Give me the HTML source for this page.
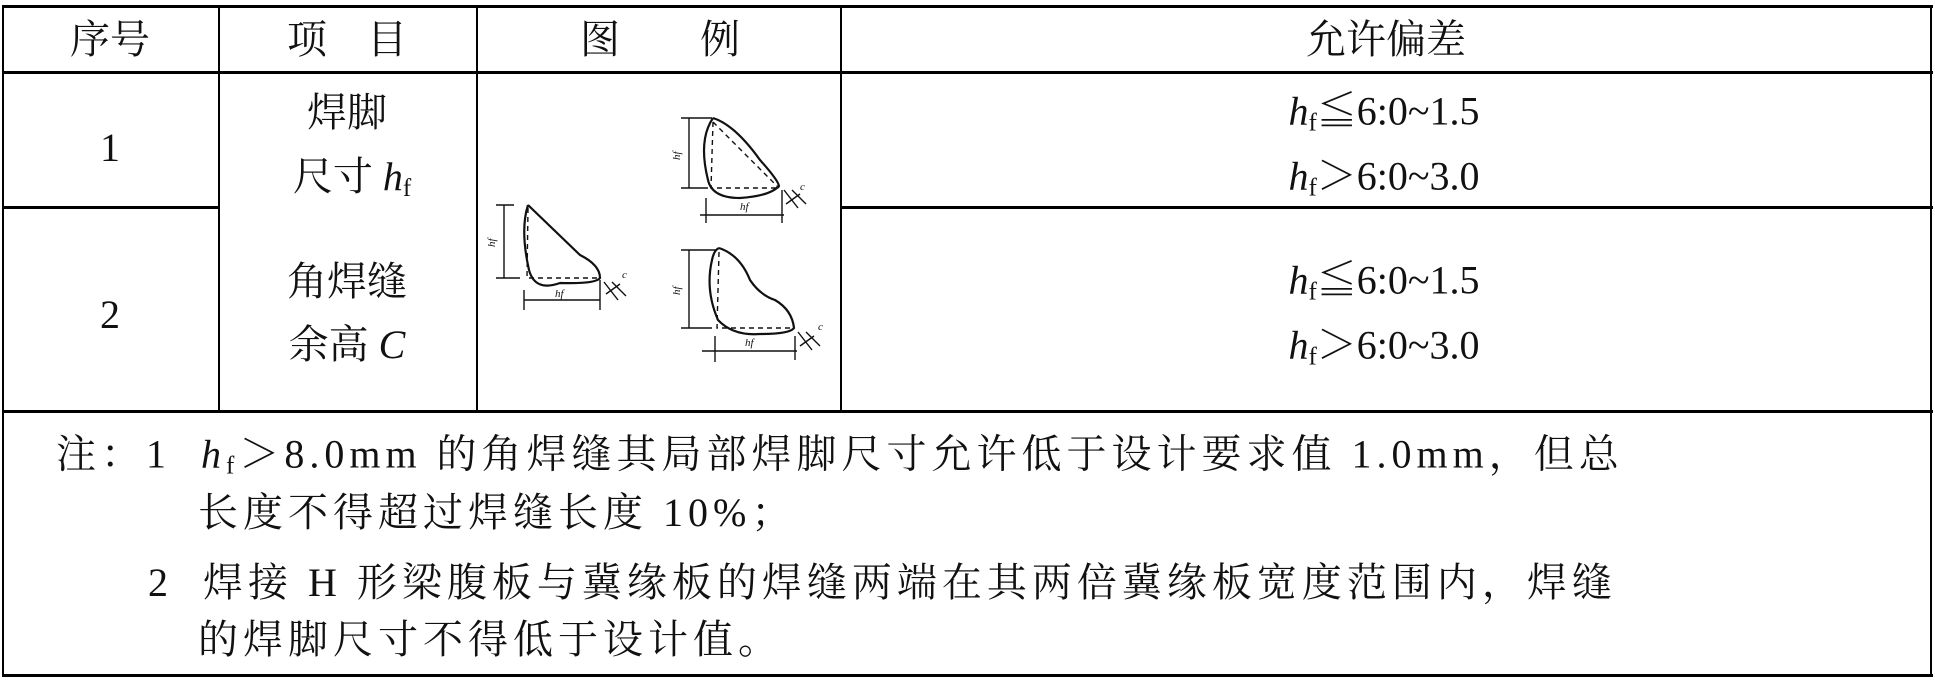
<!DOCTYPE html>
<html><head><meta charset="utf-8"><style>
html,body{margin:0;padding:0;background:#fff;}
body{width:1935px;height:682px;position:relative;overflow:hidden;font-family:"Liberation Serif","Noto Serif CJK SC",serif;color:#111;}
.l{position:absolute;background:#000;}
.t{position:absolute;font-size:40px;line-height:1;white-space:nowrap;transform:translate(-50%,-50%);}
.n{position:absolute;font-size:40px;line-height:1;white-space:nowrap;transform:translateY(-50%);letter-spacing:5px;}
i{font-style:italic;}
sub{font-size:25px;vertical-align:-6px;line-height:0;}
.c{font-family:"Noto Serif CJK SC",serif;}
</style></head><body>
<div class="l" style="left:2px;top:5px;width:1931px;height:3px"></div>
<div class="l" style="left:2px;top:71px;width:1931px;height:3px"></div>
<div class="l" style="left:2px;top:206px;width:217px;height:3px"></div>
<div class="l" style="left:841px;top:206px;width:1092px;height:3px"></div>
<div class="l" style="left:2px;top:410px;width:1931px;height:3px"></div>
<div class="l" style="left:2px;top:674px;width:1931px;height:3px"></div>
<div class="l" style="left:2px;top:5px;width:2px;height:672px"></div>
<div class="l" style="left:1930px;top:5px;width:2px;height:672px"></div>
<div class="l" style="left:218px;top:5px;width:2px;height:407px"></div>
<div class="l" style="left:476px;top:5px;width:2px;height:407px"></div>
<div class="l" style="left:840px;top:5px;width:2px;height:407px"></div>

<div class="t" style="left:110px;top:40px">序号</div>
<div class="t" style="left:347px;top:40px">项&nbsp;&nbsp;&nbsp;&nbsp;目</div>
<div class="t" style="left:660px;top:40px">图&nbsp;&nbsp;&nbsp;&nbsp;&nbsp;&nbsp;&nbsp;&nbsp;例</div>
<div class="t" style="left:1386px;top:40px">允许偏差</div>

<div class="t" style="left:110px;top:148px">1</div>
<div class="t" style="left:110px;top:315px">2</div>
<div class="t" style="left:347px;top:113px">焊脚</div>
<div class="t" style="left:352px;top:177px">尺寸 <i>h</i><sub>f</sub></div>
<div class="t" style="left:347px;top:282px">角焊缝</div>
<div class="t" style="left:347px;top:345px">余高 <i>C</i></div>

<div class="t" style="left:1384px;top:110px"><i>h</i><sub>f</sub><span class="c">≦</span>6:0~1.5</div>
<div class="t" style="left:1384px;top:175px"><i>h</i><sub>f</sub><span class="c">＞</span>6:0~3.0</div>
<div class="t" style="left:1384px;top:279px"><i>h</i><sub>f</sub><span class="c">≦</span>6:0~1.5</div>
<div class="t" style="left:1384px;top:344px"><i>h</i><sub>f</sub><span class="c">＞</span>6:0~3.0</div>

<svg style="position:absolute;left:0;top:0" width="1935" height="682">
<g fill="none" stroke="#111" stroke-width="2.2">
 <path d="M528,205 L580,255 Q600,265 600,278 Q596,284 560,283 Q535,292 529,270 Q520,230 528,205"/>
 <path d="M713,118 Q735,125 760,160 Q778,180 779,186 Q770,196 740,198 Q712,198 708,180 Q698,140 713,118"/>
 <path d="M719,248 Q740,255 750,280 Q760,295 775,300 Q792,310 794,328 Q790,334 760,334 Q733,336 718,320 Q705,290 712,260 Q714,250 719,248"/>
</g>
<g fill="none" stroke="#111" stroke-width="1.4" stroke-dasharray="5,4">
 <path d="M528,208 L527,278 L598,278"/>
 <path d="M713,122 L711,188 L779,188 M713,122 L779,188"/>
 <path d="M719,252 L717,328 L794,328"/>
</g>
<g stroke="#111" stroke-width="1.4">
 <path d="M504,205 L504,278 M496,205 L514,205 M496,278 L520,278"/>
 <path d="M524,290 L524,310 M600,280 L600,310 M524,300 L600,300"/>
 <path d="M689,118 L689,188 M681,118 L712,118 M681,188 L708,188"/>
 <path d="M706,198 L706,223 M782,190 L782,223 M700,215 L784,215"/>
 <path d="M689,250 L689,328 M681,250 L716,250 M681,328 L712,328"/>
 <path d="M715,336 L715,362 M795,336 L795,360 M702,351 L797,351"/>
 <path d="M604,282 L618,300 M612,282 L626,296 M606,294 L620,284"/>
 <path d="M784,190 L798,208 M792,190 L806,204 M786,204 L800,194"/>
 <path d="M798,332 L812,350 M806,332 L820,346 M800,346 L814,336"/>
</g>
<g font-family="Liberation Serif" font-style="italic" font-size="11" fill="#111">
 <text x="495" y="247" transform="rotate(-90 495 247)">hf</text>
 <text x="555" y="297">hf</text>
 <text x="680" y="160" transform="rotate(-90 680 160)">hf</text>
 <text x="740" y="210">hf</text>
 <text x="680" y="295" transform="rotate(-90 680 295)">hf</text>
 <text x="745" y="346">hf</text>
 <text x="622" y="278">c</text>
 <text x="800" y="190">c</text>
 <text x="818" y="330">c</text>
</g>
</svg>

<div class="n" style="left:56px;top:453px">注：1&nbsp;&nbsp;<i>h</i><sub>f</sub><span class="c">＞</span>8.0mm 的角焊缝其局部焊脚尺寸允许低于设计要求值 1.0mm，但总</div>
<div class="n" style="left:198px;top:513px">长度不得超过焊缝长度 10%；</div>
<div class="n" style="left:148px;top:583px">2&nbsp;&nbsp;焊接 H 形梁腹板与冀缘板的焊缝两端在其两倍冀缘板宽度范围内，焊缝</div>
<div class="n" style="left:198px;top:640px">的焊脚尺寸不得低于设计值。</div>
</body></html>
